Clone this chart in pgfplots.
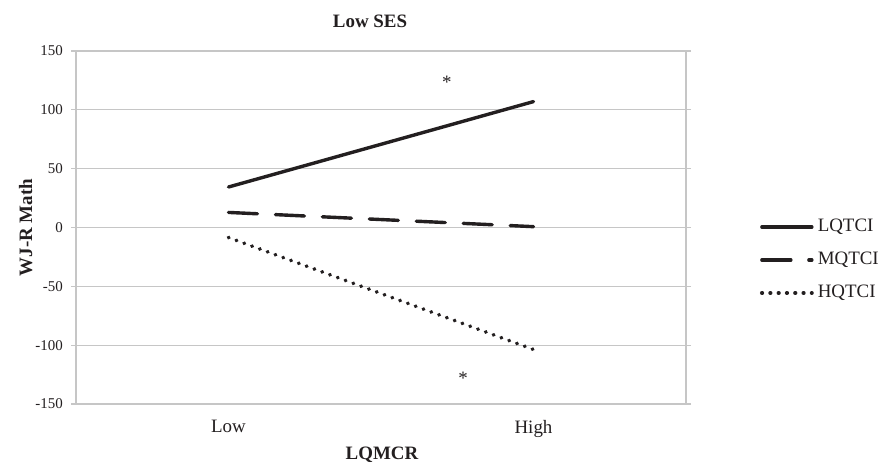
\documentclass[border=0pt]{standalone}
\usepackage{pgfplots}
\pgfplotsset{compat=1.18}
\usepackage{fontspec}
\setmainfont{Liberation Serif}
\definecolor{ink}{HTML}{231F20}
\definecolor{gridc}{HTML}{C6C6C6}
\begin{document}
\begin{tikzpicture}[x=1bp,y=1bp]
\useasboundingbox (0,0) rectangle (890,465);
\begin{axis}[
  at={(76bp,61bp)}, anchor=south west,
  scale only axis, width=610bp, height=353bp,
  xmin=-0.5, xmax=1.5, ymin=-150, ymax=150,
  xtick={0,1}, xticklabels={Low,High},
  ytick={-150,-100,-50,0,50,100,150},
  axis line style={gridc, line width=1.2bp},
  ymajorgrids, major grid style={gridc, line width=1.2bp},
  tick align=outside, major tick length=5bp,
  ytick style={gridc, line width=1.2bp},
  xtick style={draw=none},
  /pgf/number format/assume math mode=true,
  yticklabel style={font=\fontsize{15}{17}\selectfont, text=ink, inner sep=0pt, xshift=-8bp},
  xticklabel style={font=\fontsize{19}{21}\selectfont, text=ink, inner sep=0pt, yshift=-11bp},
  clip=false,
  legend style={draw=none, fill=none, at={(1.116,0.408)}, anchor=west,
    font=\fontsize{19}{21}\selectfont, text=ink, row sep=16bp,
    nodes={inner sep=0pt, text height=13bp, text depth=4bp},
    /tikz/every odd column/.append style={column sep=4bp}},
  legend cell align=left,
  legend image code/.code={\draw[#1] (0bp,0bp) -- (50bp,0bp);},
]
\addplot[ink, line width=3.4bp, line cap=round] coordinates {(0,34.4) (1,107)};
\addlegendentry{LQTCI}
\addplot[ink, line width=3.4bp, line cap=round, dash pattern=on 29bp off 18bp] coordinates {(0,12.8) (1,0.7)};
\addlegendentry{MQTCI}
\addplot[ink, line width=3.8bp, line cap=round, dash pattern=on 0.4bp off 7.9bp] coordinates {(0,-8.5) (1,-103.7)};
\addlegendentry{HQTCI}
\node[text=ink, font=\fontsize{19}{21}\selectfont] at (axis cs:0.716,123) {*};
\node[text=ink, font=\fontsize{19}{21}\selectfont] at (axis cs:0.769,-128) {*};
\end{axis}
\node[anchor=base, text=ink, font=\bfseries\fontsize{19}{21}\selectfont] at (370,437) {Low SES};
\node[anchor=base, text=ink, font=\bfseries\fontsize{19}{21}\selectfont] at (382,5) {LQMCR};
\node[anchor=base, rotate=90, text=ink, font=\bfseries\fontsize{19}{21}\selectfont] at (32,237.5) {WJ-R Math};
\end{tikzpicture}
\end{document}
